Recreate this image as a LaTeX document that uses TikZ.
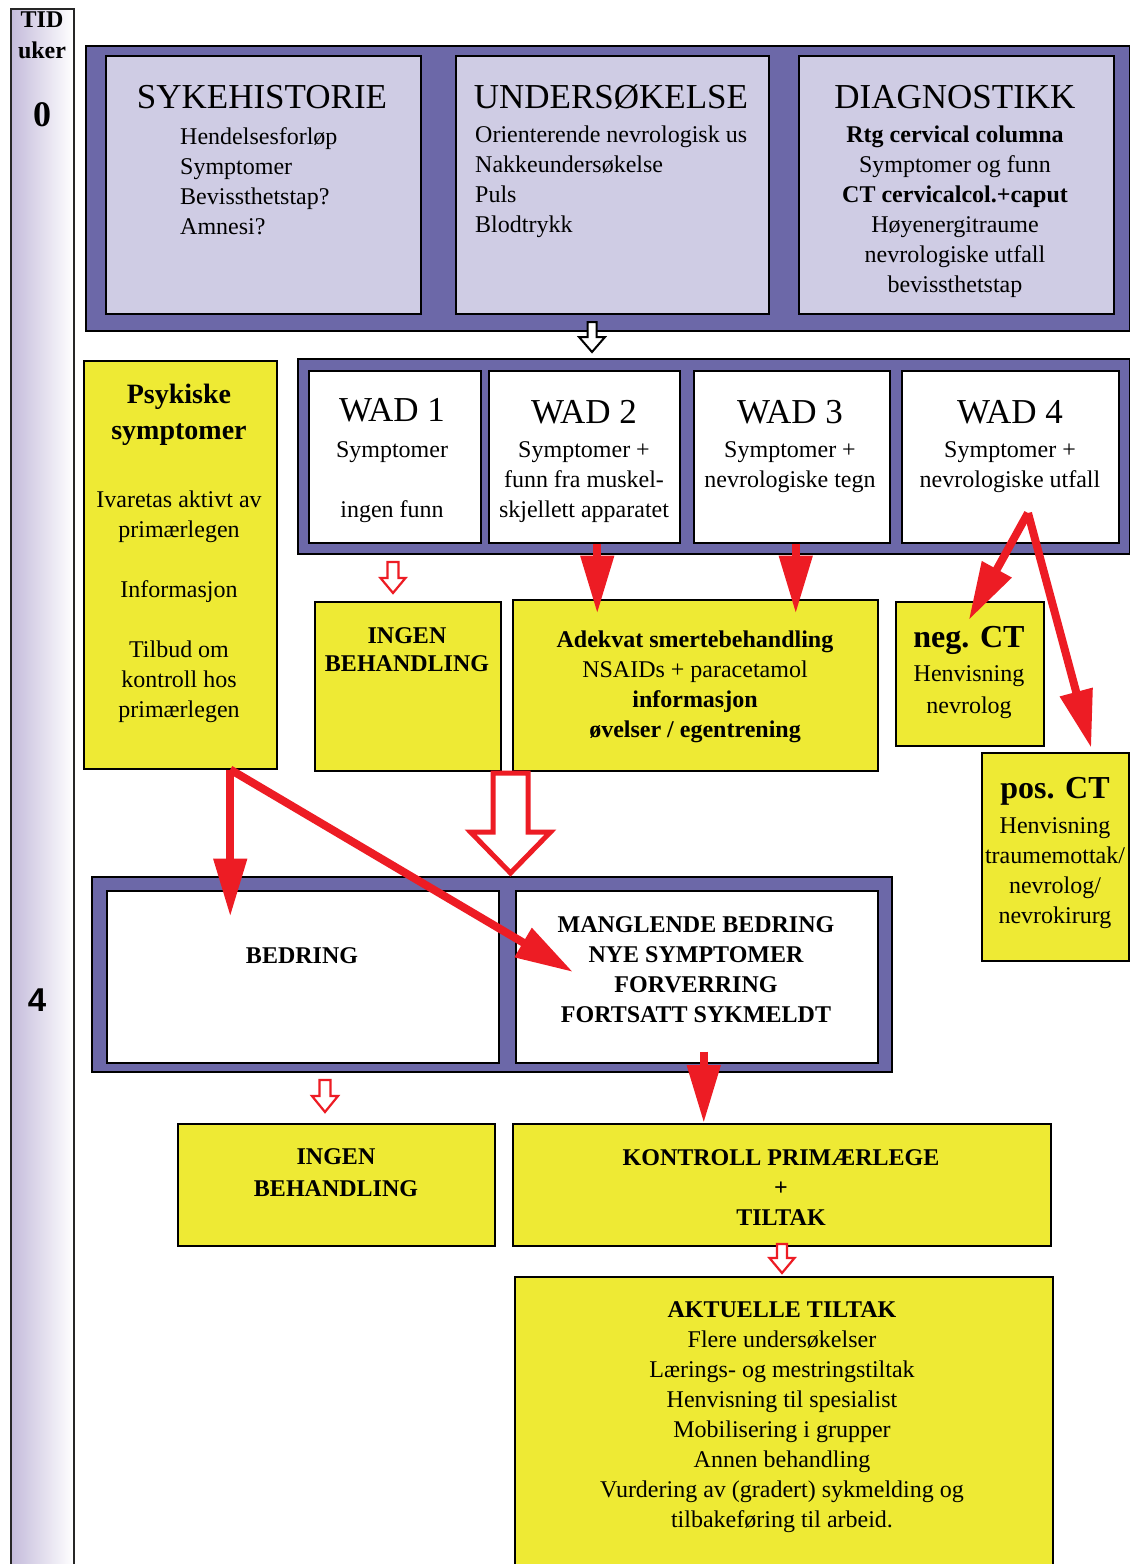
\documentclass[tikz,border=0pt]{standalone}
\usepackage{fontspec}
\setmainfont{Liberation Serif}
\newfontfamily\sansbold{Liberation Sans}
\usetikzlibrary{arrows.meta,calc}
\definecolor{purp}{HTML}{6C68A8}
\definecolor{lav}{HTML}{CFCCE4}
\definecolor{yel}{HTML}{EEEA34}
\definecolor{redc}{HTML}{ED1C24}
\definecolor{tlav}{HTML}{C4BBDB}
\newcommand\myharrow[7]{%
  \path[#7] (#1-#5,#2) -- (#1+#5,#2) -- (#1+#5,#3) -- (#1+#6,#3) -- (#1,#4)
     -- (#1-#6,#3) -- (#1-#5,#3) -- cycle;}
\tikzset{
  boxbase/.style={draw=black, line width=1.5pt, inner sep=0pt, anchor=north west},
  frame/.style={boxbase, fill=purp},
  lbox/.style={boxbase, fill=lav},
  wbox/.style={boxbase, fill=white},
  ybox/.style={boxbase, fill=yel},
  txt/.style={inner sep=0pt, align=center, font=\fontsize{24}{30}\selectfont},
  btxt/.style={txt, font=\fontsize{24}{30}\selectfont\bfseries},
  head/.style={inner sep=0pt, font=\fontsize{35}{40}\selectfont},
  redarrow/.style={draw=redc, line width=8pt, -{Triangle[length=58pt,width=32pt]}},
  hollowred/.style={draw=redc, fill=white, line width=2.2pt, miter limit=20},
  hollowbig/.style={draw=redc, fill=white, line width=5pt, miter limit=20},
  hollowblack/.style={draw=black, fill=white, line width=2pt, miter limit=20},
}
\begin{document}
\begin{tikzpicture}[x=1pt,y=-1pt]
\useasboundingbox[fill=white] (0,0) rectangle (1130,1564);

% time bar
\node[boxbase, draw=black!85, left color=tlav, right color=white, minimum width=63pt, minimum height=1570pt] (bar) at (10,8) {};
\node[btxt] (tid) at (42,20) {TID};
\node[btxt] (uker) at (42,50) {uker};
\node[inner sep=0pt, font=\fontsize{36}{40}\selectfont\bfseries] (w0) at (42,115) {0};
\node[inner sep=0pt, font=\fontsize{33}{40}\selectfont\sansbold\bfseries] (w4) at (37,1000) {4};

% top frame
\node[frame, minimum width=1044pt, minimum height=285pt] (topf) at (85,45) {};
\node[lbox, minimum width=315pt, minimum height=258pt] (sh) at (105,55) {};
\node[lbox, minimum width=313pt, minimum height=258pt] (us) at (455,55) {};
\node[lbox, minimum width=315pt, minimum height=258pt] (di) at (798,55) {};
\node[head] (shT) at (262,97) {SYKEHISTORIE};
\node[txt, align=left, anchor=west] (shB) at (180,181.5) {Hendelsesforløp\\Symptomer\\Bevissthetstap?\\Amnesi?};
\node[head] (usT) at (611,97) {UNDERSØKELSE};
\node[txt, align=left, anchor=west] (usB) at (475,181.5) {Orienterende nevrologisk us\\Nakkeundersøkelse\\Puls\\Blodtrykk};
\node[head] (diT) at (955,97) {DIAGNOSTIKK};
\node[txt] (diB) at (955,212) {\textbf{Rtg cervical columna}\\Symptomer og funn\\\textbf{CT cervicalcol.+caput}\\Høyenergitraume\\nevrologiske utfall\\bevissthetstap};

% WAD frame
\node[frame, minimum width=832pt, minimum height=195pt] (wadf) at (297,358) {};
\node[wbox, minimum width=172pt, minimum height=172pt] (wad1) at (308,370) {};
\node[wbox, minimum width=191pt, minimum height=172pt] (wad2) at (488,370) {};
\node[wbox, minimum width=196pt, minimum height=172pt] (wad3) at (693,370) {};
\node[wbox, minimum width=217pt, minimum height=172pt] (wad4) at (901,370) {};
\node[head] (wad1T) at (392,410) {WAD 1};
\node[txt] (wad1B) at (392,482) {Symptomer\\[30pt]ingen funn};
\node[head] (wad2T) at (584,412) {WAD 2};
\node[txt] (wad2B) at (584,482) {Symptomer +\\funn fra muskel-\\skjellett apparatet};
\node[head] (wad3T) at (790,412) {WAD 3};
\node[txt] (wad3B) at (790,467.5) {Symptomer +\\nevrologiske tegn};
\node[head] (wad4T) at (1010,412) {WAD 4};
\node[txt] (wad4B) at (1010,467.5) {Symptomer +\\nevrologiske utfall};

% yellow boxes middle
\node[ybox, minimum width=193pt, minimum height=408pt] (psyk) at (83,360) {};
\node[txt, font=\fontsize{28}{36}\selectfont\bfseries] (psykT) at (179,415) {Psykiske\\symptomer};
\node[txt] (psykB) at (179,607) {Ivaretas aktivt av\\primærlegen\\[30pt]Informasjon\\[30pt]Tilbud om\\kontroll hos\\primærlegen};

\node[ybox, minimum width=186pt, minimum height=169pt] (ing1) at (314,601) {};
\node[btxt, font=\fontsize{24}{28}\selectfont\bfseries] (ing1T) at (407,650) {INGEN\\BEHANDLING};

\node[ybox, minimum width=365pt, minimum height=171pt] (adek) at (512,599) {};
\node[txt] (adekT) at (695,686.5) {\textbf{Adekvat smertebehandling}\\NSAIDs + paracetamol\\\textbf{informasjon}\\\textbf{øvelser / egentrening}};

\node[ybox, minimum width=148pt, minimum height=144pt] (neg) at (895,601) {};
\node[inner sep=0pt, font=\fontsize{32}{36}\selectfont\bfseries] (negT) at (969,640) {neg. CT};
\node[txt, font=\fontsize{24}{32}\selectfont] (negB) at (969,692) {Henvisning\\nevrolog};

\node[ybox, minimum width=147pt, minimum height=208pt] (pos) at (981,752) {};
\node[inner sep=0pt, font=\fontsize{32}{36}\selectfont\bfseries] (posT) at (1055,791) {pos. CT};
\node[txt] (posB) at (1055,873.5) {Henvisning\\traumemottak/\\nevrolog/\\nevrokirurg};

% bottom frame
\node[frame, minimum width=800pt, minimum height=195pt] (botf) at (91,876) {};
\node[wbox, minimum width=392pt, minimum height=172pt] (bed) at (106,890) {};
\node[wbox, minimum width=362pt, minimum height=172pt] (mang) at (515,890) {};
\node[btxt] (bedT) at (302,956) {BEDRING};
\node[btxt] (mangT) at (696,970) {MANGLENDE BEDRING\\NYE SYMPTOMER\\FORVERRING\\FORTSATT SYKMELDT};

% lower yellow boxes
\node[ybox, minimum width=317pt, minimum height=122pt] (ing2) at (177,1123) {};
\node[btxt, font=\fontsize{24}{32}\selectfont\bfseries] (ing2T) at (336,1173) {INGEN\\BEHANDLING};
\node[ybox, minimum width=538pt, minimum height=122pt] (kon) at (512,1123) {};
\node[btxt] (konT) at (781,1187.5) {KONTROLL PRIMÆRLEGE\\+\\TILTAK};
\node[ybox, minimum width=538pt, minimum height=300pt] (akt) at (514,1276) {};
\node[txt] (aktT) at (782,1417.5) {\textbf{AKTUELLE TILTAK}\\Flere undersøkelser\\Lærings- og mestringstiltak\\Henvisning til spesialist\\Mobilisering i grupper\\Annen behandling\\Vurdering av (gradert) sykmelding og\\tilbakeføring til arbeid.};

% hollow block arrows
\myharrow{592}{322}{337}{352}{4.5}{13}{hollowblack}
\myharrow{393}{562}{578}{593}{5.5}{12.5}{hollowred}
\myharrow{510.5}{773}{832}{873}{17.5}{40}{hollowbig}
\myharrow{325}{1080}{1096}{1112}{5.5}{13}{hollowred}
\myharrow{782}{1244}{1258}{1273}{5}{12.5}{hollowred}

% red arrows
\draw[redarrow] ([xshift=13pt]wad2.south) -- ++(0,70);
\draw[redarrow] ([xshift=4pt]wad3.south) -- ++(0,70);
\coordinate (w4s) at (1028,513);
\draw[redarrow] (w4s) -- ([xshift=-1pt,yshift=-19pt]neg.north);
\draw[redarrow] (w4s) -- ([xshift=36pt,yshift=4pt]pos.north);
\draw[redarrow] ([xshift=50pt]psyk.south) -- ++(0,147);
\draw[redarrow] ([xshift=50pt]psyk.south) -- ([xshift=58pt,yshift=-82pt]mang.north west);
\draw[redarrow] ([xshift=7pt,yshift=12pt]mang.south) -- ([xshift=-78pt]kon.north);
\end{tikzpicture}
\end{document}
